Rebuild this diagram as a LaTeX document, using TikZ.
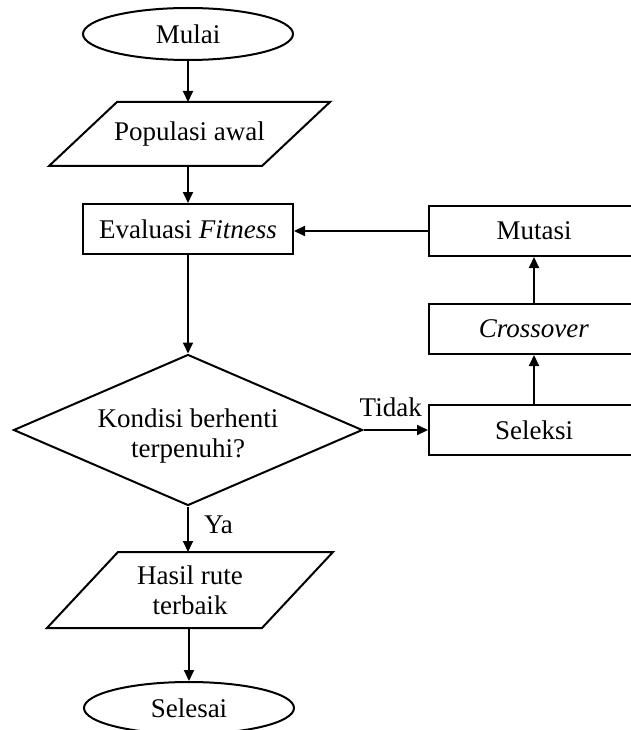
\documentclass[tikz,border=0pt]{standalone}
\usepackage{fontspec}
\setmainfont{Liberation Serif}
\usetikzlibrary{shapes.geometric,arrows.meta,calc}
\begin{document}
\begin{tikzpicture}[x=1pt,y=-1pt,
  every node/.style={font=\fontsize{27}{30}\selectfont, inner sep=0pt},
  base/.style={line width=2pt},
  term/.style={base, draw, ellipse, minimum width=210pt, minimum height=52pt},
  proc/.style={base, draw, rectangle, minimum width=210pt, minimum height=50pt},
  dec/.style={base, draw, diamond, aspect=2.31, minimum width=349pt, minimum height=151pt},
  io/.style={rectangle, align=center, outer sep=0pt},
  arr/.style={base, -{Triangle[length=11pt,width=10pt]}}
]
\useasboundingbox (0,0) rectangle (631,730);
\clip (0,0) rectangle (631,730);
\node[term] (start) at (188,34) {Mulai};
\node[io, minimum width=281pt, minimum height=64pt] (pop) at (189.5,134) {Populasi awal};
\node[proc] (eval) at (188,229) {Evaluasi \textit{Fitness}};
\node[dec, label={[align=center, yshift=-6pt]center:{Kondisi berhenti\\terpenuhi?}}] (cond) at (188,430) {};
\node[io, minimum width=286pt, minimum height=76pt] (res) at (190,590) {Hasil rute\\terbaik};
\node[term] (end) at (189,708) {Selesai};
\node[proc] (mut) at (534,231) {Mutasi};
\node[proc] (cross) at (534,329) {\textit{Crossover}};
\node[proc] (sel) at (534,430) {Seleksi};
\draw[base] (pop.south west) -- ($(pop.north west)+(68,0)$) -- (pop.north east) -- ($(pop.south east)+(-68,0)$) -- cycle;
\draw[base] (res.south west) -- ($(res.north west)+(71,0)$) -- (res.north east) -- ($(res.south east)+(-71,0)$) -- cycle;
\draw[arr] (start.south) -- (start.south |- pop.north);
\draw[arr] (pop.south -| eval.north) -- (eval.north);
\draw[arr] (eval.south) -- (cond.north);
\draw[arr] (cond.east) -- (sel.west) node[midway, above=12pt, xshift=-5pt] {Tidak};
\draw[arr] (sel.north) -- (cross.south);
\draw[arr] (cross.north) -- (mut.south);
\draw[arr] (mut.west) -- (mut.west -| eval.east);
\draw[arr] (cond.south) -- (cond.south |- res.north) node[midway, right=15pt, yshift=4pt] {Ya};
\draw[arr] (res.south -| end.north) -- (end.north);
\end{tikzpicture}
\end{document}
